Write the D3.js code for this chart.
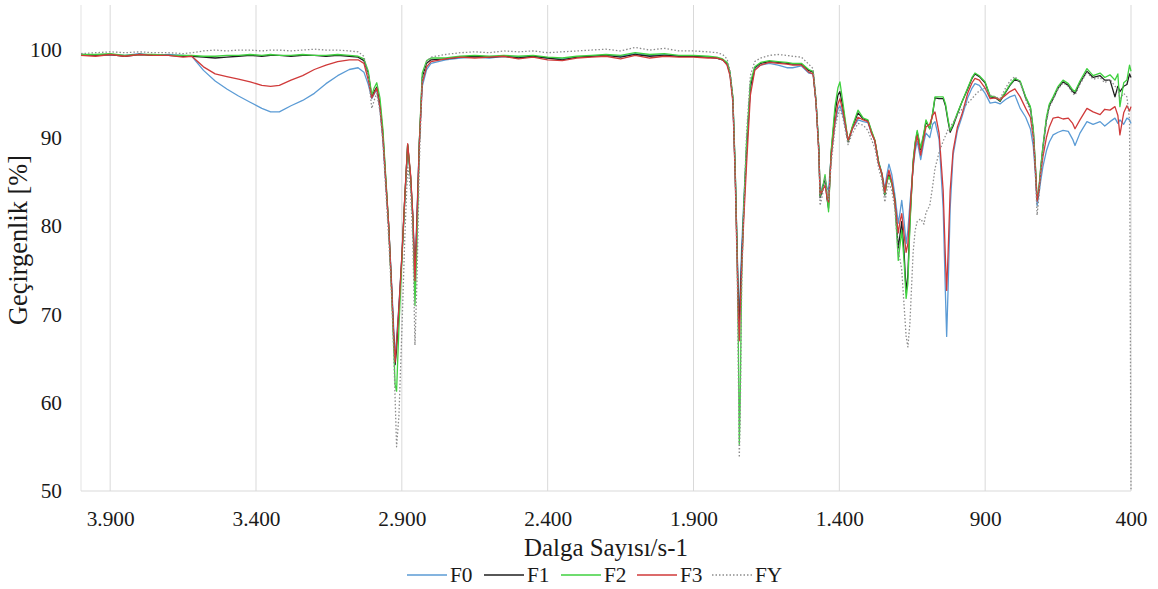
<!DOCTYPE html>
<html>
<head>
<meta charset="utf-8">
<script src="https://cdn.jsdelivr.net/npm/d3@7"></script>
<style>
  html, body { margin: 0; padding: 0; background: #ffffff; }
  svg { display: block; }
</style>
</head>
<body>
<svg id="chart" width="1158" height="589"></svg>
<script>
// ---- DATA ----
const wavenumbers = [
  4000, 3950, 3900, 3850, 3800, 3750, 3700, 3650,
  3620, 3580, 3540, 3500, 3460, 3420, 3380, 3350, 3320, 3280, 3240, 3200, 3160, 3120, 3080, 3050, 3030,
  3015, 3003, 2995, 2986, 2975, 2965, 2955, 2945, 2935, 2928, 2923, 2918, 2910, 2900, 2890, 2880, 2870, 2862, 2855, 2848, 2840, 2830, 2815, 2800,
  2750, 2700, 2650, 2600, 2550, 2500, 2450, 2400, 2350, 2300, 2250, 2200, 2150, 2100, 2050, 2000, 1950, 1900, 1850, 1820, 1800,
  1785, 1775, 1765, 1757, 1750, 1746, 1743, 1740, 1735, 1728, 1718, 1705, 1690, 1670, 1640, 1610, 1580, 1560, 1530, 1505,
  1490, 1480, 1470, 1466, 1458, 1449, 1442, 1437, 1428, 1415, 1405, 1398, 1388, 1370, 1355, 1336, 1318, 1302, 1290, 1278,
  1265, 1254, 1244, 1237, 1230, 1220, 1210, 1198, 1192, 1186, 1178, 1171, 1165, 1158, 1147, 1140, 1133, 1121, 1110, 1103,
  1090, 1080, 1072, 1058, 1044, 1036, 1032, 1027, 1020, 1010, 995, 980, 960, 945, 935, 920, 900, 883, 865, 849,
  830, 815, 798, 780, 761, 745, 735, 728, 722, 716, 710, 702, 690, 680, 667, 650, 633, 615, 600, 592,
  575, 551, 530, 506, 490, 472, 455, 445, 438, 425, 414, 405, 400
];

const F0 = [
  99.4, 99.3, 99.4, 99.3, 99.5, 99.3, 99.4, 99.3,
  99.2, 97.6, 96.4, 95.5, 94.7, 94.0, 93.3, 92.9, 92.9, 93.6, 94.2, 95.0, 96.1, 97.0, 97.7, 97.9, 97.4,
  96.0, 94.4, 94.9, 95.5, 93.2, 89.8, 84.8, 80.0, 73.5, 68.5, 65.2, 67.2, 71.0, 76.5, 83.0, 89.0, 85.5, 81.0, 74.5, 81.5, 89.5, 95.8, 97.7, 98.4,
  98.8, 99.0, 99.1, 99.0, 99.2, 99.1, 99.2, 99.0, 98.9, 99.1, 99.2, 99.3, 99.2, 99.5, 99.3, 99.4, 99.2, 99.2, 99.1, 99.0, 98.8,
  98.3, 97.2, 94.3, 86.0, 77.0, 72.0, 70.0, 72.5, 77.5, 82.5, 89.0, 95.5, 97.7, 98.2, 98.4, 98.2, 97.9, 97.9, 98.1, 97.3,
  97.2, 94.0, 88.5, 83.5, 84.5, 85.2, 84.3, 84.0, 88.0, 91.5, 93.2, 93.6, 92.6, 89.6, 91.0, 92.0, 91.8, 91.7, 90.5, 89.6,
  87.2, 86.0, 84.2, 85.8, 87.0, 85.8, 83.6, 80.3, 81.5, 82.9, 80.5, 78.0, 79.5, 82.5, 86.5, 88.5, 89.6, 87.5, 89.5, 90.5,
  90.0, 91.5, 91.8, 89.8, 82.0, 72.0, 67.5, 73.0, 82.0, 88.0, 90.8, 92.3, 94.5, 95.6, 96.1, 95.9, 95.0, 93.9, 94.0, 93.8,
  94.3, 94.6, 94.8, 93.3, 92.3, 91.0, 89.0, 86.0, 82.3, 83.5, 85.0, 86.7, 88.5, 89.5, 90.3, 90.6, 90.8, 90.7, 89.8, 89.1,
  90.5, 91.8, 91.5, 91.8, 91.3, 91.8, 92.2, 91.6, 92.0, 91.5, 92.2, 92.0, 91.6
];

const F1 = [
  99.4, 99.3, 99.4, 99.2, 99.4, 99.3, 99.3, 99.2,
  99.2, 99.1, 99.0, 99.1, 99.2, 99.3, 99.2, 99.3, 99.3, 99.2, 99.3, 99.3, 99.2, 99.3, 99.2, 99.1, 98.7,
  97.2, 94.6, 95.2, 95.7, 93.8, 90.5, 85.2, 80.0, 73.0, 67.5, 64.3, 66.0, 70.5, 76.3, 83.0, 89.2, 85.6, 80.8, 73.6, 80.5, 89.4, 96.8, 98.4, 98.8,
  98.9, 99.1, 99.2, 99.1, 99.2, 99.0, 99.2, 99.0, 98.8, 99.1, 99.2, 99.3, 99.1, 99.4, 99.2, 99.3, 99.2, 99.2, 99.1, 99.0, 98.8,
  98.4, 97.3, 94.4, 86.2, 76.5, 70.5, 69.3, 71.5, 76.0, 81.5, 88.5, 95.8, 97.9, 98.4, 98.6, 98.5, 98.4, 98.3, 98.3, 97.6,
  97.4, 94.1, 88.5, 83.2, 84.0, 85.5, 83.0, 82.0, 88.3, 92.8, 94.8, 95.2, 93.5, 89.5, 91.2, 92.8, 92.1, 91.9, 90.7, 89.6,
  87.1, 85.8, 83.5, 85.0, 85.8, 84.8, 83.0, 77.5, 79.0, 80.5, 77.0, 72.5, 74.5, 80.5, 87.2, 89.3, 90.6, 88.6, 90.4, 91.8,
  91.0, 92.7, 94.5, 94.4, 94.4, 93.6, 92.8, 91.8, 90.6, 91.3, 92.7, 94.0, 95.5, 96.7, 97.2, 96.9, 96.2, 94.6, 94.5, 94.1,
  95.1, 95.9, 96.6, 96.3, 94.5, 93.4, 90.8, 86.8, 82.9, 84.0, 86.3, 88.9, 92.0, 93.6, 94.4, 95.6, 96.3, 95.9, 95.2, 95.0,
  96.2, 97.5, 96.8, 97.0, 96.5, 96.5, 94.6, 95.8, 95.2, 95.8, 96.0, 97.2, 96.8
];

const F2 = [
  99.4, 99.4, 99.5, 99.3, 99.4, 99.4, 99.3, 99.3,
  99.3, 99.2, 99.2, 99.3, 99.3, 99.4, 99.3, 99.4, 99.3, 99.3, 99.4, 99.3, 99.3, 99.4, 99.3, 99.2, 98.9,
  97.5, 94.8, 95.6, 96.2, 94.5, 91.0, 85.5, 80.0, 72.5, 66.5, 62.0, 61.3, 68.5, 76.0, 83.0, 89.2, 85.5, 80.5, 71.0, 78.0, 89.5, 97.3, 98.7, 99.0,
  99.0, 99.2, 99.3, 99.2, 99.3, 99.2, 99.3, 99.1, 99.0, 99.2, 99.3, 99.4, 99.3, 99.6, 99.4, 99.5, 99.3, 99.3, 99.2, 99.1, 98.9,
  98.5, 97.4, 94.6, 86.5, 76.5, 66.0, 55.3, 60.0, 74.0, 82.0, 89.5, 96.2, 98.0, 98.5, 98.7, 98.6, 98.5, 98.4, 98.4, 97.7,
  97.5, 94.2, 88.6, 83.4, 84.2, 85.8, 83.5, 81.6, 88.5, 93.5, 95.6, 96.3, 94.0, 89.6, 91.3, 93.1, 92.2, 92.0, 90.8, 89.7,
  87.2, 85.9, 83.6, 85.0, 85.6, 84.8, 83.0, 76.1, 77.8, 79.5, 76.0, 71.8, 73.5, 80.0, 87.4, 89.5, 90.8, 88.8, 90.6, 92.0,
  91.0, 92.8, 94.6, 94.6, 94.6, 93.8, 93.0, 92.0, 90.8, 91.5, 92.8, 94.0, 95.6, 96.8, 97.3, 97.0, 96.3, 94.7, 94.6, 94.2,
  95.2, 96.0, 96.7, 96.4, 94.6, 93.5, 91.0, 87.0, 83.0, 84.2, 86.5, 89.0, 92.3, 93.8, 94.6, 95.8, 96.5, 96.1, 95.4, 95.2,
  96.4, 97.8, 97.0, 97.3, 96.8, 97.1, 96.5, 97.2, 93.5, 96.2, 96.5, 98.2, 97.5
];

const F3 = [
  99.3, 99.2, 99.4, 99.2, 99.4, 99.3, 99.3, 99.1,
  99.2, 98.0, 97.2, 96.9, 96.6, 96.3, 95.9, 95.8, 95.9, 96.5, 97.0, 97.7, 98.2, 98.6, 98.8, 98.8, 98.4,
  96.5, 94.5, 95.0, 95.6, 93.4, 90.0, 85.0, 80.0, 73.0, 67.8, 64.6, 66.8, 70.8, 76.5, 83.2, 89.3, 85.8, 81.0, 73.8, 81.0, 89.2, 96.2, 98.0, 98.6,
  98.9, 99.1, 99.0, 99.1, 99.2, 98.9, 99.1, 98.8, 98.7, 99.0, 99.1, 99.2, 98.9, 99.3, 99.0, 99.2, 99.1, 99.1, 99.0, 99.0, 98.8,
  98.2, 97.0, 94.0, 85.5, 75.5, 69.5, 67.0, 70.5, 75.0, 80.5, 87.0, 94.8, 97.6, 98.2, 98.5, 98.4, 98.3, 98.2, 98.2, 97.4,
  97.2, 94.0, 88.0, 83.6, 84.0, 84.6, 83.2, 82.7, 87.8, 91.8, 93.8, 94.4, 93.0, 89.7, 91.0, 92.3, 92.0, 91.8, 90.5, 89.6,
  87.0, 85.9, 83.8, 85.2, 86.3, 85.0, 82.8, 79.2, 80.5, 81.4, 79.0, 77.0, 78.0, 81.5, 86.8, 89.0, 90.2, 88.0, 90.0, 91.2,
  91.5, 92.5, 92.9, 90.5, 84.0, 76.0, 72.7, 77.0, 84.0, 88.5, 91.2, 92.6, 95.0, 96.2, 96.7, 96.5, 95.6, 94.4, 94.5, 94.3,
  94.8, 95.2, 95.5, 94.6, 93.3, 92.3, 90.0, 86.5, 82.8, 84.0, 85.8, 87.8, 90.0, 91.2, 92.2, 92.3, 92.1, 92.2, 91.6, 91.0,
  92.0, 93.3, 92.9, 92.6, 93.2, 93.1, 93.5, 92.5, 90.3, 92.8, 93.6, 93.0, 93.5
];

const FY = [
  99.5, 99.6, 99.7, 99.6, 99.7, 99.6, 99.6, 99.5,
  99.6, 99.8, 99.9, 99.8, 99.9, 99.9, 99.8, 99.9, 99.9, 99.8, 99.9, 100.0, 99.9, 99.9, 99.8, 99.7, 99.2,
  97.0, 93.3, 94.2, 95.0, 93.0, 89.5, 84.0, 78.5, 72.0, 66.0, 60.5, 55.0, 58.5, 68.0, 78.5, 86.8, 84.0, 78.0, 66.5, 74.0, 87.0, 96.5, 98.6, 99.1,
  99.4, 99.6, 99.7, 99.6, 99.8, 99.7, 99.8, 99.6, 99.7, 99.8, 99.9, 100.0, 99.8, 100.2, 99.9, 100.1, 99.8, 99.8, 99.7, 99.6, 99.4,
  98.9, 97.6, 94.5, 85.5, 74.5, 63.0, 53.8, 58.0, 73.0, 81.5, 90.5, 97.0, 98.6, 99.0, 99.3, 99.4, 99.3, 99.2, 99.1, 98.3,
  97.8, 94.3, 88.0, 82.3, 83.5, 85.5, 83.8, 83.0, 87.0, 91.0, 92.6, 93.1, 92.3, 89.2, 90.5, 91.6, 91.4, 90.8, 89.8, 88.8,
  86.5, 85.2, 82.7, 84.0, 84.8, 84.0, 82.0, 77.0, 76.2, 75.0, 71.0, 67.5, 66.3, 69.0, 77.0, 79.5, 80.5, 80.8, 80.2, 81.5,
  82.3, 84.5, 86.5, 88.3, 89.6, 90.2, 90.5, 90.9, 91.2, 91.7, 92.5, 93.2, 93.9, 94.4, 94.8, 95.3, 95.6, 94.8, 94.6, 94.4,
  95.6, 96.4, 96.9, 96.2, 94.3, 93.0, 90.3, 86.0, 81.2, 83.2, 85.8, 88.5, 91.8, 93.4, 94.3, 95.5, 96.2, 95.8, 95.0, 94.8,
  96.0, 97.4, 96.6, 96.8, 96.2, 96.6, 95.8, 95.5, 94.4, 95.0, 94.6, 92.0, 50.0
];

const seriesNames = ["F0", "F1", "F2", "F3", "FY"];
const xTicks = [3900, 3400, 2900, 2400, 1900, 1400, 900, 400];
const yTicks = [50, 60, 70, 80, 90, 100];
const xTitle = "Dalga Sayısı/s-1";
const yTitle = "Geçirgenlik [%]";

// ---- CHART ----
const FONT = "'Liberation Serif', 'Times New Roman', Times, Tinos, 'Noto Serif', 'DejaVu Serif', serif";
const seriesValues = [F0, F1, F2, F3, FY];
const colors = ["#5b9bd5", "#1f1f1f", "#3fd13f", "#d03a3a", "#8c8c8c"];
const dashes = [null, null, null, null, "1.5,2"];

const svg = d3.select("#chart").style("font-family", FONT);
svg.append("rect").attr("width", 1158).attr("height", 589).attr("fill", "#fff");

const x = d3.scaleLinear().domain([4000, 400]).range([81, 1131]);
const y = d3.scaleLinear().domain([50, 105]).range([491, 5]);

const locale = d3.formatLocale({ decimal: ",", thousands: ".", grouping: [3], currency: ["", ""] });
const fmt = locale.format(",");

// fit font size so a text's width matches the width seen in the reference
function fitSize(sel, targetWidth, base) {
  sel.style("font-size", base + "px");
  const w = sel.node().getComputedTextLength();
  const s = w > 0 ? Math.max(base * 0.9, Math.min(base * 1.35, base * targetWidth / w)) : base;
  return s;
}

// vertical gridlines
const grid = svg.append("g");
grid.selectAll("line.v").data(xTicks).join("line")
  .attr("x1", d => x(d)).attr("x2", d => x(d))
  .attr("y1", y(105)).attr("y2", y(50))
  .attr("stroke", "#d9d9d9").attr("stroke-width", 1);
grid.append("line")
  .attr("x1", x(4000)).attr("x2", x(4000)).attr("y1", y(105)).attr("y2", y(50))
  .attr("stroke", "#e3e3e3").attr("stroke-width", 1);
grid.append("line")
  .attr("x1", x(4000)).attr("x2", x(400)).attr("y1", y(50)).attr("y2", y(50))
  .attr("stroke", "#d9d9d9").attr("stroke-width", 1);

// x axis labels
const xAxis = d3.axisBottom(x).tickValues(xTicks).tickFormat(fmt).tickSize(0).tickPadding(20);
const gx = svg.append("g").attr("transform", `translate(0,${y(50)})`).call(xAxis);
gx.attr("font-family", null).attr("font-size", null);
gx.select(".domain").remove();
gx.selectAll("text").attr("fill", "#1a1a1a");
const tickSize = fitSize(gx.select("text"), 48, 20);
gx.selectAll("text").style("font-size", tickSize + "px");

// y axis labels
const yAxis = d3.axisLeft(y).tickValues(yTicks).tickFormat(d => d).tickSize(0).tickPadding(19);
const gy = svg.append("g").attr("transform", `translate(${x(4000)},0)`).call(yAxis);
gy.attr("font-family", null).attr("font-size", null);
gy.select(".domain").remove();
gy.selectAll("text").attr("fill", "#1a1a1a").style("font-size", tickSize + "px");

// lines
const line = d3.line().x((d, i) => x(wavenumbers[i])).y(d => y(d));
seriesValues.forEach((vals, k) => {
  svg.append("path")
    .datum(vals)
    .attr("d", line)
    .attr("fill", "none")
    .attr("stroke", colors[k])
    .attr("stroke-width", 1.3)
    .attr("stroke-linejoin", "round")
    .attr("stroke-dasharray", dashes[k]);
});

// axis titles
const xt = svg.append("text").attr("x", 606).attr("y", 556).attr("text-anchor", "middle")
  .attr("fill", "#1a1a1a").text(xTitle);
xt.style("font-size", fitSize(xt, 164, 20) + "px");
const yt = svg.append("text").attr("transform", "translate(27,240) rotate(-90)").attr("text-anchor", "middle")
  .attr("fill", "#1a1a1a").text(yTitle);
yt.style("font-size", fitSize(yt, 170, 20) + "px");

// legend
const legendX = [407, 484, 561, 637, 712];
const leg = svg.append("g");
seriesNames.forEach((name, k) => {
  leg.append("line")
    .attr("x1", legendX[k]).attr("x2", legendX[k] + 40)
    .attr("y1", 575).attr("y2", 575)
    .attr("stroke", colors[k]).attr("stroke-width", 1.5)
    .attr("stroke-dasharray", dashes[k]);
  leg.append("text").attr("x", legendX[k] + 43).attr("y", 582)
    .attr("fill", "#1a1a1a").style("font-size", tickSize + "px").text(name);
});
</script>
</body>
</html>
